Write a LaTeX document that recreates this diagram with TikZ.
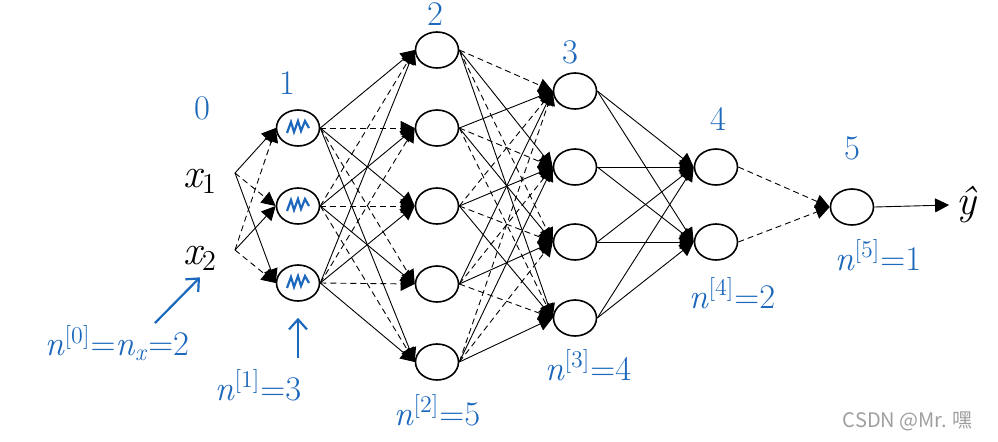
\documentclass[tikz,border=0pt]{standalone}
\usepackage{fontspec}
\newfontfamily\cjkfont{Noto Sans CJK SC}
\usetikzlibrary{shapes.geometric,arrows.meta}
\definecolor{pen}{RGB}{28,104,188}

\begin{document}
\begin{tikzpicture}[x=0.5pt, y=-0.5pt,
    neuron/.style={draw, ellipse, fill=white, line width=0.8pt, minimum width=21.5pt, minimum height=18pt, inner sep=0pt},
    link/.style={line width=0.45pt, -{Triangle[length=7pt, width=7pt]}},
    input/.style={font=\huge\itshape},
    hand/.style={text=pen, font=\LARGE},
    penarrow/.style={pen, line width=1.1pt, -{Straight Barb[length=5pt, width=9pt]}},
    scribble/.style={pen, line width=1.1pt}]
    \useasboundingbox (0,0) rectangle (998,441);

    % Inputs
    \node (x1) [input] at (200,181) {x\textsubscript{\upshape 1}};
    \node (x2) [input] at (200,258) {x\textsubscript{\upshape 2}};
    \coordinate (s1) at (235,173);
    \coordinate (s2) at (235,250);

    % Layer 1
    \node (h1-1) [neuron] at (298,128) {};
    \node (h1-2) [neuron] at (298,206) {};
    \node (h1-3) [neuron] at (298,283) {};

    % Layer 2
    \node (h2-1) [neuron] at (437,50) {};
    \node (h2-2) [neuron] at (437,128) {};
    \node (h2-3) [neuron] at (437,206) {};
    \node (h2-4) [neuron] at (437,284) {};
    \node (h2-5) [neuron] at (437,362) {};

    % Layer 3
    \node (h3-1) [neuron] at (575,91) {};
    \node (h3-2) [neuron] at (575,167) {};
    \node (h3-3) [neuron] at (575,242) {};
    \node (h3-4) [neuron] at (575,318) {};

    % Layer 4 and output unit
    \node (h4-1) [neuron] at (716,167) {};
    \node (h4-2) [neuron] at (716,242) {};
    \node (h5) [neuron] at (852,207) {};
    \node (yhat) [input] at (966,205) {ŷ};

    % Scribbles in layer 1
    \foreach \n in {1,2,3}
      \draw[scribble] ([shift={(-11,5)}]h1-\n.center) -- ++(4,-11) -- ++(3,10) -- ++(4,-11) -- ++(3,10) -- ++(4,-10) -- ++(4,7);

    % Connections (solid and dashed mixed)
    \foreach \i in {1,2}
      \foreach \j in {1,2,3} {
        \pgfmathtruncatemacro{\k}{\i+\j}
        \ifodd\k \draw[link, densely dashed] (s\i) -- (h1-\j.west); \else \draw[link] (s\i) -- (h1-\j.west); \fi
      }
    \foreach \i in {1,2,3}
      \foreach \j in {1,2,3,4,5} {
        \pgfmathtruncatemacro{\k}{\i+\j}
        \ifodd\k \draw[link, densely dashed] (h1-\i.east) -- (h2-\j.west); \else \draw[link] (h1-\i.east) -- (h2-\j.west); \fi
      }
    \foreach \i in {1,2,3,4,5}
      \foreach \j in {1,2,3,4} {
        \pgfmathtruncatemacro{\k}{\i+\j}
        \ifodd\k \draw[link] (h2-\i.east) -- (h3-\j.west); \else \draw[link, densely dashed] (h2-\i.east) -- (h3-\j.west); \fi
      }
    \foreach \i in {1,2,3,4}
      \foreach \j in {1,2}
        \draw[link] (h3-\i.east) -- (h4-\j.west);
    \draw[link, densely dashed] (h4-1.east) -- (h5.west);
    \draw[link, densely dashed] (h4-2.east) -- (h5.west);
    \draw[link] (h5.east) -- (yhat.west);

    % Layer numbers
    \node (l0) [hand] at (202,108) {0};
    \node (l1) [hand] at (287,83) {1};
    \node (l2) [hand] at (435,14) {2};
    \node (l3) [hand] at (570,52) {3};
    \node (l4) [hand] at (718,119) {4};
    \node (l5) [hand] at (852,148) {5};

    % Layer sizes
    \node (n0) [hand] at (117,343) {\textit{n}\textsuperscript{[0]}=\textit{n}\textsubscript{\textit{x}}=2};
    \node (n1) [hand] at (258,385) {\textit{n}\textsuperscript{[1]}=3};
    \node (n2) [hand] at (437,410) {\textit{n}\textsuperscript{[2]}=5};
    \node (n3) [hand] at (588,365) {\textit{n}\textsuperscript{[3]}=4};
    \node (n4) [hand] at (732,293) {\textit{n}\textsuperscript{[4]}=2};
    \node (n5) [hand] at (878,255) {\textit{n}\textsuperscript{[5]}=1};
    \draw[penarrow] ([shift={(38,-20)}]n0.center) -- (x2.south);
    \draw[penarrow] ([shift={(40,-27)}]n1.center) -- ([yshift=-8pt]h1-3.south);

    % Watermark
    \node (mark) [anchor=east, text=gray!75, font=\cjkfont\normalsize] at (980,421) {CSDN @Mr. 嘿};
\end{tikzpicture}
\end{document}
